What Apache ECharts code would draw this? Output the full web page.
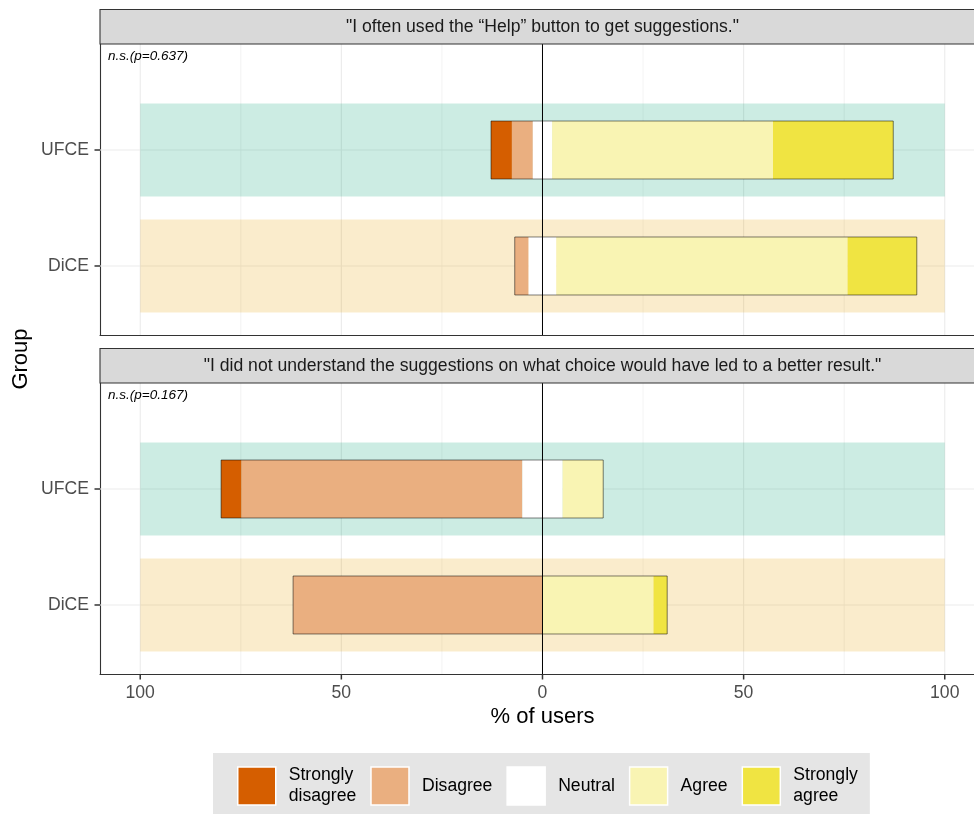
<!DOCTYPE html>
<html><head><meta charset="utf-8">
<script src="https://cdn.jsdelivr.net/npm/echarts@6/dist/echarts.min.js"></script>
<style>html,body{margin:0;padding:0;background:#fff}#c{width:974px;height:814px}</style>
</head><body><div id="c"></div>
<script>
// ---------------- data ----------------
const groups = ['DiCE', 'UFCE'];           // y positions 1 and 2
const levels = ['Strongly disagree', 'Disagree', 'Neutral', 'Agree', 'Strongly agree'];
const legendLabels = ['Strongly\ndisagree', 'Disagree', 'Neutral', 'Agree', 'Strongly\nagree'];
const questions = [
  '"I often used the \u201cHelp\u201d button to get suggestions."',
  '"I did not understand the suggestions on what choice would have led to a better result."'
];
const pLabels = ['n.s.(p=0.637)', 'n.s.(p=0.167)'];
const xTitle = '% of users';
const yTitle = 'Group';
// percentages per level: SD, D, N, A, SA
const q1DiCE = [0, 3.45, 6.9, 72.4, 17.2];
const q1UFCE = [5.2, 5.2, 4.8, 54.9, 29.9];
const q2DiCE = [0, 62.0, 0, 27.6, 3.4];
const q2UFCE = [5.1, 69.8, 10.0, 10.1, 0];
const xTicks = [-100, -50, 0, 50, 100];
const xMinor = [-75, -25, 25, 75];
const bandRange = [-100, 100];

// ---------------- style ----------------
const levelColors = ['#D55E00', '#EAAF80', '#FFFFFF', '#F9F4B3', '#F0E442'];
const bandColors = ['rgba(230,159,0,0.2)', 'rgba(0,158,115,0.2)'];
const FONT = '"Liberation Sans", Arial, Helvetica, sans-serif';
// panel is cut off at the right edge of the picture
const X_MIN = -110, X_MAX = 107.27, Y_MIN = 0.405, Y_MAX = 2.914;
const gridTops = [44, 383];
const GRID_H = 291, GRID_L = 100;
const panelData = [[q1DiCE, q1UFCE], [q2DiCE, q2UFCE]];

function stack(vals) {
  let start = -(vals[0] + vals[1] + vals[2] / 2);
  return vals.map(v => { const s = [start, start + v]; start += v; return s; });
}

const series = [];
const graphics = [];
for (let p = 0; p < 2; p++) {
  const ax = { xAxisIndex: p, yAxisIndex: p };
  // vertical gridlines
  series.push(Object.assign({
    type: 'custom', silent: true, z: 1,
    data: xTicks.map(v => [v, 1]).concat(xMinor.map(v => [v, 0])),
    encode: { x: 0 },
    renderItem: (params, api) => {
      const x = api.value(0), major = api.value(1);
      const a = api.coord([x, Y_MIN]), b = api.coord([x, Y_MAX]);
      return { type: 'line', shape: { x1: a[0], y1: a[1], x2: b[0], y2: b[1] },
        style: { stroke: '#ebebeb', lineWidth: major ? 1.1 : 0.6 } };
    }
  }, ax));
  // horizontal gridlines
  series.push(Object.assign({
    type: 'custom', silent: true, z: 1,
    data: [[0, 1], [0, 2]],
    encode: { x: 0, y: 1 },
    renderItem: (params, api) => {
      const y = api.value(1);
      const a = api.coord([X_MIN, y]), b = api.coord([X_MAX, y]);
      return { type: 'line', shape: { x1: a[0], y1: a[1], x2: b[0], y2: b[1] },
        style: { stroke: '#ebebeb', lineWidth: 1.1 } };
    }
  }, ax));
  // y-axis tick marks
  series.push(Object.assign({
    type: 'custom', silent: true, z: 6, clip: false,
    data: [[X_MIN, 1], [X_MIN, 2]],
    encode: { x: 0, y: 1 },
    renderItem: (params, api) => {
      const a = api.coord([X_MIN, api.value(1)]);
      return { type: 'line', shape: { x1: a[0] - 5.5, y1: a[1], x2: a[0], y2: a[1] },
        style: { stroke: '#333', lineWidth: 1.5 } };
    }
  }, ax));
  if (p === 1) {
    // x-axis tick marks
    series.push(Object.assign({
      type: 'custom', silent: true, z: 6, clip: false,
      data: xTicks.map(v => [v, Y_MIN]),
      encode: { x: 0, y: 1 },
      renderItem: (params, api) => {
        const a = api.coord([api.value(0), Y_MIN]);
        return { type: 'line', shape: { x1: a[0], y1: a[1], x2: a[0], y2: a[1] + 5.5 },
          style: { stroke: '#333', lineWidth: 1.5 } };
      }
    }, ax));
  }
  // background bands
  series.push(Object.assign({
    type: 'custom', silent: true, z: 2,
    data: groups.map((g, i) => [bandRange[0], bandRange[1], i + 1, i]),
    encode: { x: [0, 1], y: 2 },
    renderItem: (params, api) => {
      const y = api.value(2), gi = api.value(3);
      const a = api.coord([api.value(0), y + 0.4]), b = api.coord([api.value(1), y - 0.4]);
      return { type: 'rect', shape: { x: a[0], y: a[1], width: b[0] - a[0], height: b[1] - a[1] },
        style: { fill: bandColors[gi] } };
    }
  }, ax));
  // segments per level
  const stacks = panelData[p].map(stack);
  levels.forEach((lv, li) => {
    const data = [];
    stacks.forEach((st, gi) => { if (panelData[p][gi][li] > 0) data.push([st[li][0], st[li][1], gi + 1]); });
    series.push(Object.assign({
      type: 'custom', name: lv, z: 3,
      itemStyle: { color: levelColors[li] },
      data: data,
      encode: { x: [0, 1], y: 2 },
      renderItem: (params, api) => {
        const y = api.value(2);
        const a = api.coord([api.value(0), y + 0.25]), b = api.coord([api.value(1), y - 0.25]);
        return { type: 'rect', shape: { x: a[0], y: a[1], width: b[0] - a[0], height: b[1] - a[1] },
          style: { fill: levelColors[li] } };
      }
    }, ax));
  });
  // bar outlines
  series.push(Object.assign({
    type: 'custom', silent: true, z: 4,
    data: stacks.map((st, gi) => [st[0][0], st[4][1], gi + 1]),
    encode: { x: [0, 1], y: 2 },
    renderItem: (params, api) => {
      const y = api.value(2);
      const a = api.coord([api.value(0), y + 0.25]), b = api.coord([api.value(1), y - 0.25]);
      return { type: 'rect', shape: { x: a[0], y: a[1], width: b[0] - a[0], height: b[1] - a[1] },
        style: { fill: 'none', stroke: 'rgba(0,0,0,0.5)', lineWidth: 1 } };
    }
  }, ax));
  // zero line
  series.push(Object.assign({
    type: 'custom', silent: true, z: 5,
    data: [[0, 1]],
    encode: { x: 0 },
    renderItem: (params, api) => {
      const a = api.coord([0, Y_MIN]), b = api.coord([0, Y_MAX]);
      return { type: 'line', shape: { x1: a[0], y1: a[1], x2: b[0], y2: b[1] },
        style: { stroke: '#000', lineWidth: 1 } };
    }
  }, ax));

  // strip
  const top = gridTops[p];
  graphics.push({ type: 'rect', z: 10, shape: { x: GRID_L, y: top - 34.5, width: 950, height: 34.5 },
    style: { fill: '#d9d9d9', stroke: '#333', lineWidth: 1.1 } });
  graphics.push({ type: 'text', z: 11, x: 542.5, y: top - 17.2,
    style: { text: questions[p], font: '17.6px ' + FONT, fill: '#1a1a1a', align: 'center', verticalAlign: 'middle' } });
  graphics.push({ type: 'text', z: 11, x: 108, y: top + 12,
    style: { text: pLabels[p], font: 'italic 13.5px ' + FONT, fill: '#000', align: 'left', verticalAlign: 'middle' } });
}
graphics.push({ type: 'text', z: 11, x: 21, y: 359, rotation: Math.PI / 2,
  style: { text: yTitle, font: '22px ' + FONT, fill: '#000', align: 'center', verticalAlign: 'middle' } });
graphics.push({ type: 'text', z: 11, x: 542.5, y: 717,
  style: { text: xTitle, font: '22px ' + FONT, fill: '#000', align: 'center', verticalAlign: 'middle' } });

const grids = gridTops.map(t => ({ left: GRID_L, right: 0, top: t, height: GRID_H,
  show: true, borderWidth: 0, backgroundColor: '#fff', containLabel: false }));

const xAxes = [0, 1].map(p => ({
  type: 'value', gridIndex: p, min: X_MIN, max: X_MAX,
  splitLine: { show: false },
  axisLine: { show: true, onZero: false, lineStyle: { color: '#333', width: 1.1 } },
  axisTick: { show: false },
  axisLabel: { show: p === 1, customValues: xTicks, formatter: v => String(Math.abs(v)),
    color: '#4d4d4d', fontSize: 17.6, margin: 10, fontFamily: FONT }
}));
const yAxes = [0, 1].map(p => ({
  type: 'value', gridIndex: p, min: Y_MIN, max: Y_MAX,
  splitLine: { show: false },
  axisLine: { show: true, onZero: false, lineStyle: { color: '#333', width: 1.1 } },
  axisTick: { show: false },
  axisLabel: { customValues: [1, 2], formatter: v => groups[Math.round(v) - 1] || '',
    color: '#4d4d4d', fontSize: 17.6, margin: 11, fontFamily: FONT }
}));

const chart = echarts.init(document.getElementById('c'), null, { renderer: 'canvas' });
chart.setOption({
  animation: false,
  backgroundColor: '#fff',
  textStyle: { fontFamily: FONT },
  grid: grids, xAxis: xAxes, yAxis: yAxes,
  legend: {
    data: levels, left: 213, top: 753, orient: 'horizontal',
    itemWidth: 38, itemHeight: 38, itemGap: 14, padding: [12, 12, 12, 24],
    backgroundColor: '#e5e5e5', icon: 'rect', selectedMode: false,
    itemStyle: { borderColor: '#fff', borderWidth: 1.5 },
    textStyle: { fontSize: 17.6, color: '#000', lineHeight: 21, padding: [0, 0, 0, 8], fontFamily: FONT },
    formatter: name => legendLabels[levels.indexOf(name)]
  },
  series: series,
  graphic: graphics
});
</script></body></html>
